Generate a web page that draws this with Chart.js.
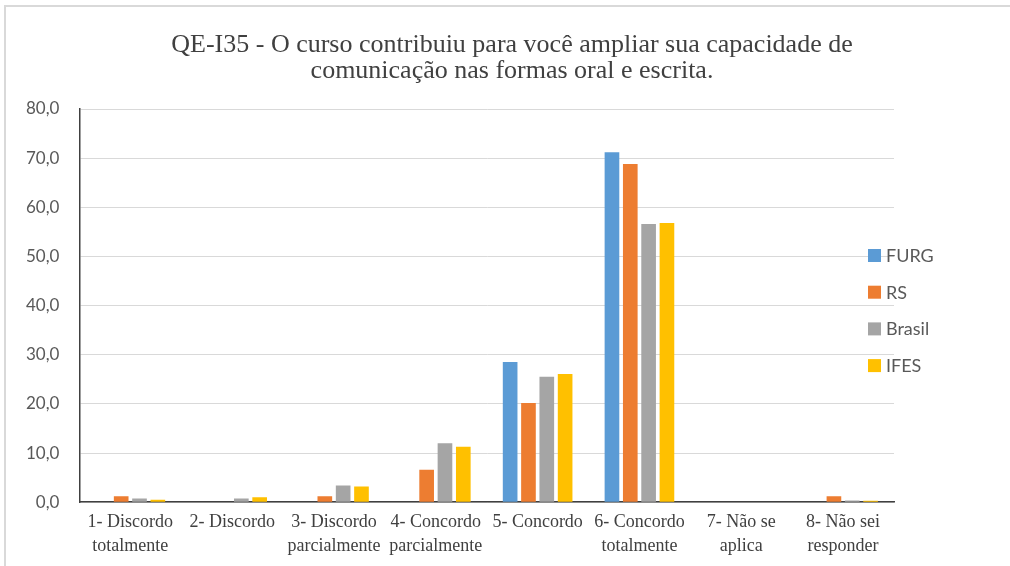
<!DOCTYPE html>
<html>
<head>
<meta charset="utf-8">
<script src="https://cdn.jsdelivr.net/npm/chart.js@4"></script>
<style>
  html, body { margin: 0; padding: 0; background: #fff; }
  #wrap { width: 1010px; height: 566px; position: relative; }
</style>
</head>
<body>
<div id="wrap"><canvas id="chart" width="1010" height="566"></canvas></div>
<script>
const categories = [
  ["1- Discordo", "totalmente"],
  "2- Discordo",
  ["3- Discordo", "parcialmente"],
  ["4- Concordo", "parcialmente"],
  "5- Concordo",
  ["6- Concordo", "totalmente"],
  ["7- Não se", "aplica"],
  ["8- Não sei", "responder"]
];
const furg   = [0,   0,    0,   0,    28.5, 71.2, 0, 0];
const rs     = [1.2, 0,    1.2, 6.6,  20.2, 68.8, 0, 1.2];
const brasil = [0.75, 0.75, 3.4, 12.0, 25.5, 56.6, 0, 0.35];
const ifes   = [0.5, 1.0,  3.2, 11.3, 26.1, 56.8, 0, 0.3];
const seriesNames = ["FURG", "RS", "Brasil", "IFES"];
const seriesColors = ["#5b9bd5", "#ed7d31", "#a5a5a5", "#ffc000"];
const titleLines = ["QE-I35 - O curso contribuiu para você ampliar sua capacidade de",
                    "comunicação nas formas oral e escrita."];

const allSeries = [furg, rs, brasil, ifes];

// frame, title and legend drawn by hand so they sit where the original has them
const framePlugin = {
  id: 'frame',
  beforeDraw(chart) {
    const ctx = chart.ctx;
    ctx.save();
    ctx.fillStyle = '#fff';
    ctx.fillRect(0, 0, chart.width, chart.height);
    ctx.strokeStyle = '#d9d9d9';
    ctx.lineWidth = 2;
    ctx.beginPath();
    ctx.moveTo(1010, 6);
    ctx.lineTo(5, 6);
    ctx.lineTo(5, 566);
    ctx.stroke();
    ctx.fillStyle = '#404040';
    ctx.font = '26px "Liberation Serif"';
    ctx.textAlign = 'center';
    ctx.textBaseline = 'middle';
    titleLines.forEach((t, i) => ctx.fillText(t, 512, 45 + i * 26));
    ctx.restore();
  },
  afterDraw(chart) {
    const ctx = chart.ctx;
    ctx.save();
    ctx.font = '18px Lato';
    ctx.textBaseline = 'middle';
    seriesNames.forEach((name, i) => {
      const y = 255 + i * 36.7;
      ctx.fillStyle = seriesColors[i];
      ctx.fillRect(868, y - 6, 13, 13);
      ctx.fillStyle = '#595959';
      ctx.fillText(name, 886, y + 1);
    });
    ctx.restore();
  }
};

const data = {
  labels: categories,
  datasets: seriesNames.map((name, i) => ({
    label: name,
    data: allSeries[i],
    backgroundColor: seriesColors[i],
    borderWidth: 0,
    categoryPercentage: 0.72,
    barPercentage: 0.8
  }))
};

const config = {
  type: 'bar',
  data: data,
  options: {
    responsive: false,
    animation: false,
    layout: {
      padding: { left: 6, right: 116, top: 109, bottom: 0 }
    },
    plugins: {
      legend: { display: false },
      tooltip: { enabled: false },
      title: { display: false }
    },
    scales: {
      x: {
        grid: { display: false, drawTicks: false },
        border: { color: '#404040', width: 1.5 },
        ticks: {
          color: '#404040',
          font: { family: '"Liberation Serif"', size: 18, lineHeight: 1.3 },
          maxRotation: 0,
          autoSkip: false,
          padding: 8.5
        }
      },
      y: {
        min: 0,
        max: 80,
        grid: { color: '#d9d9d9', drawTicks: false },
        border: { color: '#404040', width: 1.5 },
        ticks: {
          stepSize: 10,
          color: '#595959',
          padding: 20,
          font: { family: 'Lato', size: 17 },
          callback: v => v.toFixed(1).replace('.', ',')
        }
      }
    }
  },
  plugins: [framePlugin]
};

var chart = new Chart(document.getElementById('chart'), config);
</script>
</body>
</html>
